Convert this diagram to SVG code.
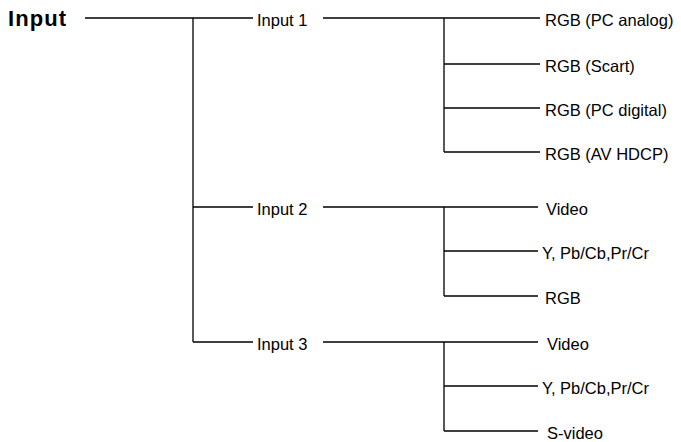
<svg xmlns="http://www.w3.org/2000/svg" width="681" height="442" viewBox="0 0 681 442">
<style>
.l{stroke:#000;stroke-width:1.3;fill:none}
text{font-family:"Liberation Sans",Arial,sans-serif;fill:#000;font-size:16.5px}
.root{font-weight:bold;font-size:22px}
</style>
<rect width="681" height="442" fill="#fff"/>
<g id="connectors">
<path class="l" d="M85 18H253M193 18V342M193 207H253M193 342H253"/>
<path class="l" d="M323 18H540M444 18V152M444 64H540M444 108H540M444 152H540"/>
<path class="l" d="M323 207H538M444 207V296M444 251H538M444 296H538"/>
<path class="l" d="M323 342H538M444 342V431M444 386H538M444 431H538"/>
</g>
<g id="n-input"><text class="root" x="8" y="26" textLength="58">Input</text></g>
<g id="n-input1"><text x="257" y="25.5">Input 1</text></g>
<g id="n-input2"><text x="257" y="214.5">Input 2</text></g>
<g id="n-input3"><text x="257" y="349.5">Input 3</text></g>
<g id="n-rgb-pc-analog"><text x="545" y="25.5">RGB (PC analog)</text></g>
<g id="n-rgb-scart"><text x="545" y="71.5">RGB (Scart)</text></g>
<g id="n-rgb-pc-digital"><text x="545" y="115.5">RGB (PC digital)</text></g>
<g id="n-rgb-av-hdcp"><text x="545" y="159.5">RGB (AV HDCP)</text></g>
<g id="n-video2"><text x="546" y="214.5">Video</text></g>
<g id="n-ypbpr2"><text x="542" y="258.5">Y, Pb/Cb,Pr/Cr</text></g>
<g id="n-rgb2"><text x="545" y="303.5">RGB</text></g>
<g id="n-video3"><text x="547" y="349.5">Video</text></g>
<g id="n-ypbpr3"><text x="542" y="393.5">Y, Pb/Cb,Pr/Cr</text></g>
<g id="n-svideo3"><text x="547" y="438.5">S-video</text></g>
</svg>
